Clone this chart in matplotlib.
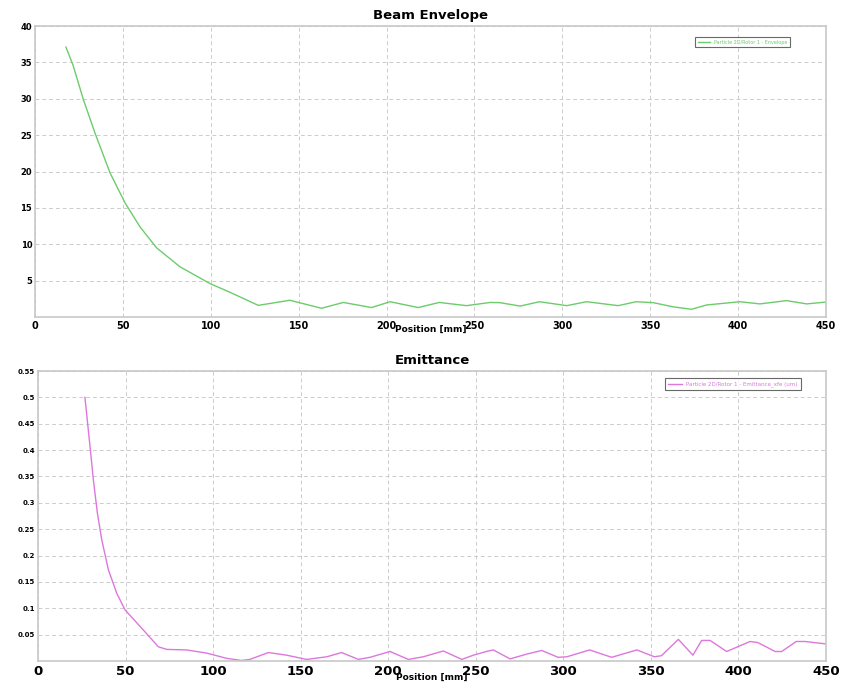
import matplotlib
matplotlib.use("Agg")
import matplotlib.pyplot as plt

# Beam envelope data (position mm, envelope)
env_x = [17.6, 21.8, 27.5, 34.1, 42.7, 51.2, 59.7, 69.2, 82.5, 99.5, 110.9, 127, 145, 163, 175.4,
         191.5, 202, 218, 230, 245.5, 259, 264.5, 276, 287, 302.5, 313.8, 331.8, 342, 351.7,
         363, 373.5, 382, 401, 412.4, 427.6, 439, 452]
env_y = [37.1, 34.5, 29.9, 25.3, 19.8, 15.7, 12.4, 9.5, 6.9, 4.6, 3.4, 1.6, 2.3, 1.2, 2.0,
         1.3, 2.1, 1.3, 2.0, 1.56, 2.0, 1.97, 1.5, 2.1, 1.56, 2.1, 1.56, 2.1, 1.97,
         1.4, 1.06, 1.65, 2.1, 1.8, 2.25, 1.8, 2.1]

# Emittance data
emi_x = [26.8, 29.7, 31.6, 33.9, 36.4, 40.2, 44.9, 49.7, 60.1, 68.7, 73.5, 84.9, 96.3, 107.8,
         116.3, 121, 131.5, 142, 153.5, 164.9, 173.4, 183, 189.6, 201, 211.5, 220, 231.5,
         242, 248.6, 256, 260, 269.6, 279, 287.6, 297, 302, 315, 327.6, 342, 352, 356,
         365.7, 374, 379, 383.8, 393.3, 406.6, 411, 421, 424.7, 433, 438, 451]
emi_y = [0.5, 0.407, 0.344, 0.281, 0.23, 0.173, 0.129, 0.097, 0.059, 0.027, 0.022, 0.021, 0.015,
         0.005, 0.001, 0.003, 0.016, 0.011, 0.003, 0.008, 0.016, 0.003, 0.007, 0.018, 0.003,
         0.008, 0.019, 0.003, 0.011, 0.018, 0.021, 0.004, 0.013, 0.020, 0.007, 0.008, 0.021,
         0.007, 0.021, 0.008, 0.010, 0.041, 0.011, 0.039, 0.039, 0.018, 0.037, 0.035, 0.018,
         0.018, 0.037, 0.037, 0.032]

x_ticks = [0, 50, 100, 150, 200, 250, 300, 350, 400, 450]
env_yticks = [5, 10, 15, 20, 25, 30, 35, 40]
emi_yticks = [0.05, 0.1, 0.15, 0.2, 0.25, 0.3, 0.35, 0.4, 0.45, 0.5, 0.55]

W, H = 848, 684
fig = plt.figure(figsize=(W / 100, H / 100), dpi=100)

def rect(l, t, r, b):
    return [l / W, 1 - b / H, (r - l) / W, (b - t) / H]

ax1 = fig.add_axes(rect(35, 26, 826, 317))
ax2 = fig.add_axes(rect(38, 371, 826, 661))

def style(ax, xfs, yfs):
    for s in ax.spines.values():
        s.set_color("#c8c8c8")
        s.set_linewidth(1.2)
    ax.grid(True, color="#cccccc", linestyle=(0, (4, 3)), linewidth=0.7)
    ax.set_axisbelow(True)
    ax.tick_params(axis="x", length=0, labelsize=xfs, pad=3)
    ax.tick_params(axis="y", length=0, labelsize=yfs, pad=2)
    for lab in ax.get_xticklabels() + ax.get_yticklabels():
        lab.set_fontweight("bold")

ax1.plot(env_x, env_y, color="#6ccc6c", linewidth=1.0, label="Particle 2D/Rotor 1 - Envelope")
ax1.set_xlim(0, 450)
ax1.set_ylim(0, 40)
ax1.set_xticks(x_ticks)
ax1.set_yticks(env_yticks)
ax1.set_xticklabels([str(v) for v in x_ticks])
ax1.set_yticklabels([str(v) for v in env_yticks])
style(ax1, 7, 6)
ax1.set_title("Beam Envelope", fontsize=9.5, fontweight="bold", pad=5)
ax1.text(0.5, -0.042, "Position [mm]", transform=ax1.transAxes, ha="center", va="center",
         fontsize=6.5, fontweight="bold")
leg1 = ax1.legend(loc="upper right", bbox_to_anchor=(0.957, 0.97), fontsize=3.5,
                  frameon=True, fancybox=False, handlelength=2.5, borderpad=0.5)
leg1.get_frame().set_edgecolor("#444444")
leg1.get_frame().set_linewidth(0.8)
for t in leg1.get_texts():
    t.set_color("#6ccc6c")

ax2.plot(emi_x, emi_y, color="#dd77dd", linewidth=1.0, label="Particle 2D/Rotor 1 - Emittance_xfe (um)")
ax2.set_xlim(0, 450)
ax2.set_ylim(0, 0.55)
ax2.set_xticks(x_ticks)
ax2.set_yticks(emi_yticks)
ax2.set_xticklabels([str(v) for v in x_ticks])
ax2.set_yticklabels([f"{v:g}" for v in emi_yticks])
style(ax2, 9.5, 5)
ax2.set_title("Emittance", fontsize=9.5, fontweight="bold", pad=5)
ax2.text(0.5, -0.055, "Position [mm]", transform=ax2.transAxes, ha="center", va="center",
         fontsize=6.5, fontweight="bold")
leg2 = ax2.legend(loc="upper right", bbox_to_anchor=(0.972, 0.985), fontsize=4,
                  frameon=True, fancybox=False, handlelength=2.5, borderpad=0.6)
leg2.get_frame().set_edgecolor("#444444")
leg2.get_frame().set_linewidth(0.8)
for t in leg2.get_texts():
    t.set_color("#dd77dd")

fig.savefig("out.png", dpi=100)
